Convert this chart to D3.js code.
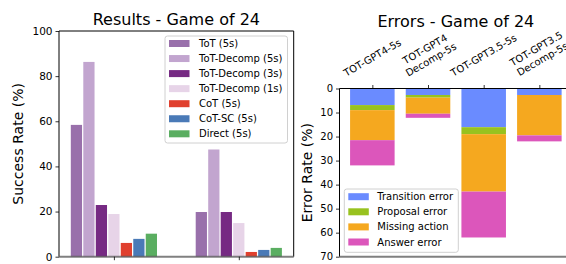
<!DOCTYPE html>
<html><head><meta charset="utf-8">
<script src="https://cdn.jsdelivr.net/npm/d3@7/dist/d3.min.js"></script>
<style>
body{margin:0;background:#fff;}
svg{display:block;font-family:"DejaVu Sans",sans-serif;}
</style></head>
<body><svg id="c" width="566" height="264"></svg>
<script>
// ---- data ----
const groups = ["GPT-4", "GPT-3.5"];
const methods = ["ToT (5s)", "ToT-Decomp (5s)", "ToT-Decomp (3s)", "ToT-Decomp (1s)", "CoT (5s)", "CoT-SC (5s)", "Direct (5s)"];
const successGPT4 = [58.4, 86.3, 22.9, 18.9, 6.1, 7.9, 10.2];
const successGPT35 = [19.8, 47.5, 19.8, 14.9, 2.1, 3.0, 3.9];
const methodColors = ["#9970ab", "#c2a5cf", "#762a83", "#e7d4e8", "#e0402e", "#4a7ab7", "#5aae61"];
const successTicks = [0, 20, 40, 60, 80, 100];

const configs = ["TOT-GPT4-5s", "TOT-GPT4\nDecomp-5s", "TOT-GPT3.5-5s", "TOT-GPT3.5\nDecomp-5s"];
const errorTypes = ["Transition error", "Proposal error", "Missing action", "Answer error"];
const transitionErr = [6.9, 2.7, 16.1, 2.7];
const proposalErr = [2.1, 1.1, 2.9, 0];
const missingErr = [12.5, 6.7, 23.9, 16.8];
const answerErr = [10.5, 1.7, 19.1, 2.5];
const errorColors = ["#6a8bff", "#98c21f", "#f5a81f", "#dc56bb"];
const errorTicks = [0, 10, 20, 30, 40, 50, 60, 70];

const svg = d3.select("#c");
const FONT = '"DejaVu Sans",sans-serif';

function styleAxis(g, fs){
  g.select(".domain").remove();
  g.selectAll(".tick line").attr("stroke","#000").attr("stroke-width",0.8);
  g.selectAll(".tick text").attr("fill","#000").style("font-size",fs+"px").style("font-family",FONT);
}

// ================= Left chart =================
{
  const L = 59, R = 293.7, T = 31, B = 256.7;
  const x = d3.scaleLinear().domain([-0.4395, 1.4395]).range([L, R]);
  const y = d3.scaleLinear().domain([0, 100]).range([B, T]);
  const step = 0.1, bw = 0.09;
  const series = [successGPT4, successGPT35];
  const g = svg.append("g");
  series.forEach((vals, gi) => {
    g.selectAll(null).data(vals).enter().append("rect")
      .attr("x", (d,i) => x(gi + (i-3)*step - bw/2))
      .attr("width", (d,i) => x(gi + (i-3)*step + bw/2) - x(gi + (i-3)*step - bw/2))
      .attr("y", d => y(d))
      .attr("height", d => y(0) - y(d))
      .attr("fill", (d,i) => methodColors[i]);
  });
  // spines
  g.append("line").attr("x1",L).attr("x2",L).attr("y1",T).attr("y2",B).attr("stroke","#000").attr("stroke-width",1);
  g.append("line").attr("x1",R).attr("x2",R).attr("y1",T).attr("y2",B).attr("stroke","#000").attr("stroke-width",1);
  g.append("line").attr("x1",L).attr("x2",R).attr("y1",T).attr("y2",T).attr("stroke","#000").attr("stroke-width",1);
  g.append("line").attr("x1",L).attr("x2",R).attr("y1",B).attr("y2",B).attr("stroke","#555").attr("stroke-opacity",0.75).attr("stroke-width",2);
  // axes
  const ya = g.append("g").attr("transform",`translate(${L},0)`)
    .call(d3.axisLeft(y).tickValues(successTicks).tickSize(3.5).tickPadding(3));
  styleAxis(ya, 10.5);
  const xa = g.append("g").attr("transform",`translate(0,${B})`)
    .call(d3.axisBottom(x).tickValues([0,1]).tickFormat(() => "").tickSize(3.5));
  styleAxis(xa, 10);
  // title & label
  g.append("text").attr("x",(L+R)/2).attr("y",25).attr("text-anchor","middle")
    .style("font-size","16px").text("Results - Game of 24");
  g.append("text").attr("transform",`translate(22.5,${(T+B)/2}) rotate(-90)`).attr("text-anchor","middle")
    .style("font-size","14px").text("Success Rate (%)");
  // legend
  const lg = g.append("g");
  lg.append("rect").attr("x",165).attr("y",36).attr("width",122.5).attr("height",107).attr("rx",2.5)
    .attr("fill","#fff").attr("fill-opacity",0.8).attr("stroke","#d0d0d0").attr("stroke-width",1);
  methods.forEach((m,i) => {
    const cy = 43.5 + i*15.05;
    lg.append("rect").attr("x",169).attr("y",cy-3.5).attr("width",20.5).attr("height",7).attr("fill",methodColors[i]);
    lg.append("text").attr("x",199).attr("y",cy).attr("dominant-baseline","central")
      .style("font-size","10px").text(m);
  });
}

// ================= Right chart =================
{
  const L = 339.5, R = 572.2, T = 88.5, B = 256.7;
  const x = d3.scaleLinear().domain([-0.59, 3.59]).range([L, R]);
  const y = d3.scaleLinear().domain([0, 70]).range([T, B]);
  const bw = 0.8;
  const layers = [transitionErr, proposalErr, missingErr, answerErr];
  const g = svg.append("g");
  const stackData = configs.map((c,i) => {
    const o = {key: c, idx: i};
    errorTypes.forEach((e,k) => o[e] = layers[k][i]);
    return o;
  });
  const stacked = d3.stack().keys(errorTypes)(stackData);
  stacked.forEach((s,k) => {
    g.selectAll(null).data(s).enter().append("rect")
      .attr("x", d => x(d.data.idx - bw/2))
      .attr("width", d => x(d.data.idx + bw/2) - x(d.data.idx - bw/2))
      .attr("y", d => y(d[0]))
      .attr("height", d => y(d[1]) - y(d[0]))
      .attr("fill", errorColors[k]);
  });
  // spines
  g.append("line").attr("x1",L).attr("x2",L).attr("y1",T).attr("y2",B).attr("stroke","#000").attr("stroke-width",1);
  g.append("line").attr("x1",L).attr("x2",R).attr("y1",T).attr("y2",T).attr("stroke","#000").attr("stroke-width",1);
  g.append("line").attr("x1",L).attr("x2",R).attr("y1",B).attr("y2",B).attr("stroke","#555").attr("stroke-opacity",0.75).attr("stroke-width",2);
  // axes
  const ya = g.append("g").attr("transform",`translate(${L},0)`)
    .call(d3.axisLeft(y).tickValues(errorTicks).tickSize(3.5).tickPadding(3));
  styleAxis(ya, 10);
  const xa = g.append("g").attr("transform",`translate(0,${T})`)
    .call(d3.axisTop(x).tickValues(d3.range(configs.length)).tickFormat(() => "").tickSize(3.5));
  styleAxis(xa, 10);
  // rotated multi-line tick labels (bbox centered on tick)
  const fs = 10, lh = fs*1.2, ang = 30*Math.PI/180, bottomY = 79;
  configs.forEach((c,i) => {
    const lines = c.split("\n");
    const tg = g.append("g");
    const t = tg.append("text").attr("text-anchor","middle").style("font-size",fs+"px");
    lines.forEach((ln,j) => {
      t.append("tspan").attr("x",0).attr("y",(j - (lines.length-1)/2)*lh).attr("dominant-baseline","central").text(ln);
    });
    let W = 0;
    t.selectAll("tspan").each(function(){ W = Math.max(W, this.getComputedTextLength()); });
    const H = lines.length*lh;
    const bh = W*Math.sin(ang) + H*Math.cos(ang);
    tg.attr("transform",`translate(${x(i)},${bottomY - bh/2}) rotate(-30)`);
  });
  // title & label
  g.append("text").attr("x",(L+R)/2).attr("y",27).attr("text-anchor","middle")
    .style("font-size","16px").text("Errors - Game of 24");
  g.append("text").attr("transform",`translate(312.3,${(T+B)/2}) rotate(-90)`).attr("text-anchor","middle")
    .style("font-size","14px").text("Error Rate (%)");
  // legend
  const lg = g.append("g");
  lg.append("rect").attr("x",344.3).attr("y",189).attr("width",114).attr("height",63.3).attr("rx",2.5)
    .attr("fill","#fff").attr("fill-opacity",0.8).attr("stroke","#d0d0d0").attr("stroke-width",1);
  errorTypes.forEach((e,k) => {
    const cy = 196.7 + k*15.1;
    lg.append("rect").attr("x",348.3).attr("y",cy-3.5).attr("width",20.5).attr("height",7).attr("fill",errorColors[k]);
    lg.append("text").attr("x",377.3).attr("y",cy).attr("dominant-baseline","central")
      .style("font-size","10px").text(e);
  });
}
</script></body></html>
